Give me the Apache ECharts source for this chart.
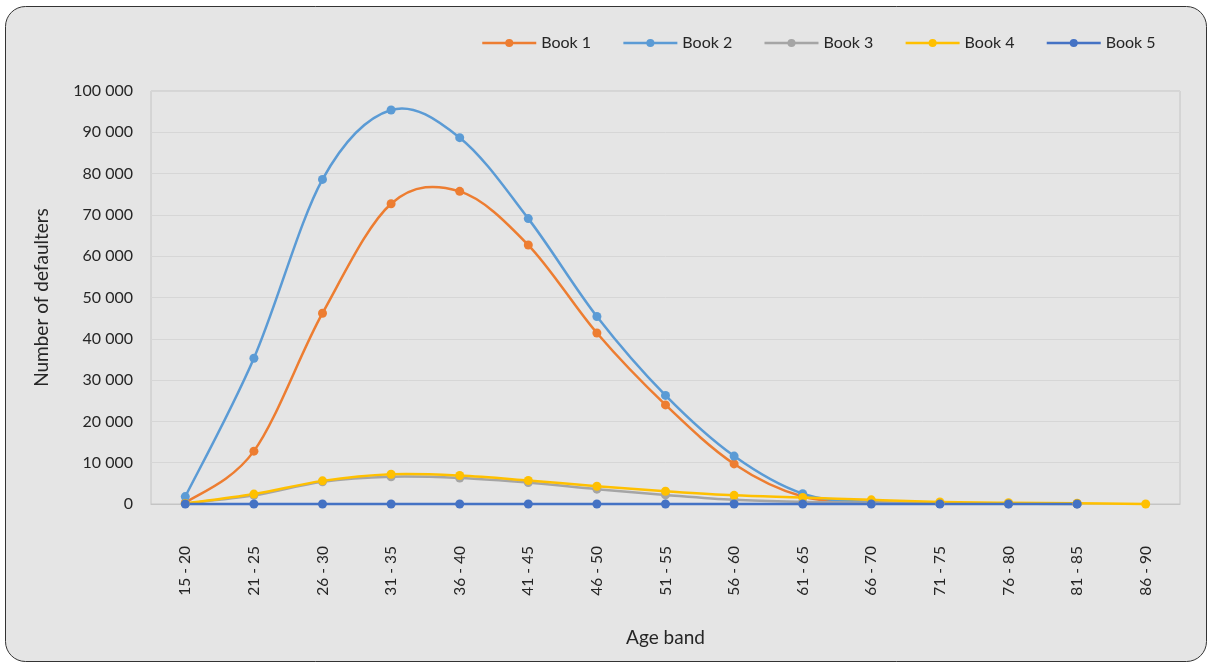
<!DOCTYPE html>
<html>
<head>
<meta charset="utf-8">
<script src="https://cdn.jsdelivr.net/npm/echarts@6/dist/echarts.min.js"></script>
<style>
html,body{margin:0;padding:0;background:#ffffff;}
#c{width:1208px;height:663px;}
</style>
</head>
<body>
<div id="c"></div>
<script>
var categories = ['15 - 20','21 - 25','26 - 30','31 - 35','36 - 40','41 - 45','46 - 50','51 - 55','56 - 60','61 - 65','66 - 70','71 - 75','76 - 80','81 - 85','86 - 90'];
var seriesNames = ['Book 1','Book 2','Book 3','Book 4','Book 5'];
var book1 = [300, 12800, 46200, 72700, 75700, 62700, 41400, 24000, 9700, 1800, 500, 200, 100, 50];
var book2 = [1800, 35300, 78600, 95400, 88700, 69100, 45400, 26300, 11600, 2500, 400, 150, 80, 40];
var book3 = [100, 2100, 5400, 6600, 6300, 5200, 3600, 2200, 1000, 500, 300, 100, 50, 20];
var book4 = [100, 2400, 5600, 7200, 6900, 5700, 4300, 3100, 2100, 1600, 1000, 500, 300, 200, 0];
var book5 = [0, 0, 0, 0, 0, 0, 0, 0, 0, 0, 0, 0, 0, 0];
var yTicks = [0, 10000, 20000, 30000, 40000, 50000, 60000, 70000, 80000, 90000, 100000];

var colors = ['#ED7D31','#5B9BD5','#A5A5A5','#FFC000','#4472C4'];
var allData = [book1, book2, book3, book4, book5];
var font = 'Lato, "Liberation Sans", sans-serif';
var textColor = '#262626';
var LW = 2.5;

function fmt(v){
  return String(v).replace(/\B(?=(\d{3})+(?!\d))/g, ' ');
}

// Smoothed curve (Catmull-Rom style, like spreadsheet smoothing), positioned through the axes via api.coord
function makeCurve(arr, color, name){
  return {
    name: name + ' curve',
    type: 'custom',
    silent: true,
    clip: false,
    data: arr.map(function(v, i){ return [i, v]; }),
    encode: {x: 0, y: 1},
    renderItem: function(params, api){
      var i = params.dataIndex;
      if (i >= arr.length - 1) return null;
      var p0 = api.coord([Math.max(i - 1, 0), arr[Math.max(i - 1, 0)]]);
      var p1 = api.coord([i, arr[i]]);
      var p2 = api.coord([i + 1, arr[i + 1]]);
      var j3 = Math.min(i + 2, arr.length - 1);
      var p3 = api.coord([j3, arr[j3]]);
      var t = 1 / 6;
      return {
        type: 'bezierCurve',
        shape: {
          x1: p1[0], y1: p1[1], x2: p2[0], y2: p2[1],
          cpx1: p1[0] + (p2[0] - p0[0]) * t, cpy1: p1[1] + (p2[1] - p0[1]) * t,
          cpx2: p2[0] - (p3[0] - p1[0]) * t, cpy2: p2[1] - (p3[1] - p1[1]) * t
        },
        style: {stroke: color, lineWidth: LW, fill: null, lineCap: 'round'}
      };
    }
  };
}

var series = [];
seriesNames.forEach(function(n, i){
  series.push(makeCurve(allData[i], colors[i], n));
  series.push({
    name: n,
    type: 'line',
    data: allData[i],
    symbol: 'circle',
    symbolSize: 9,
    showAllSymbol: true,
    clip: false,
    lineStyle: {width: LW, color: colors[i], opacity: 0},
    itemStyle: {color: colors[i]}
  });
});

var chart = echarts.init(document.getElementById('c'), null, {renderer:'canvas'});
chart.setOption({
  animation: false,
  backgroundColor: 'transparent',
  graphic: [{
    type: 'rect',
    z: -10,
    silent: true,
    shape: {x: 5.5, y: 6.5, width: 1201, height: 655, r: 20},
    style: {fill: '#e5e5e5', stroke: '#333333', lineWidth: 1}
  }],
  legend: {
    left: 476,
    top: 30,
    itemWidth: 54,
    itemHeight: 10,
    itemGap: 31,
    textStyle: {fontFamily: font, fontSize: 16, color: textColor},
    data: seriesNames.map(function(n, i){
      return {name: n, lineStyle: {opacity: 1, width: LW, color: colors[i]}};
    })
  },
  grid: {
    left: 151, right: 28, top: 91, bottom: 159,
    show: true, borderColor: '#c4c4c4', borderWidth: 1, backgroundColor: 'transparent',
    containLabel: false
  },
  xAxis: {
    type: 'category',
    data: categories,
    boundaryGap: true,
    name: 'Age band',
    nameLocation: 'middle',
    nameGap: 124,
    nameTextStyle: {fontFamily: font, fontSize: 19, color: textColor},
    axisLine: {show: true, lineStyle: {color: '#c4c4c4', width: 1}},
    axisTick: {show: false},
    axisLabel: {rotate: 90, margin: 42, fontFamily: font, fontSize: 15.5, color: textColor, interval: 0}
  },
  yAxis: {
    type: 'value',
    min: yTicks[0],
    max: yTicks[yTicks.length - 1],
    interval: yTicks[1] - yTicks[0],
    name: 'Number of defaulters',
    nameLocation: 'middle',
    nameGap: 100,
    nameTextStyle: {fontFamily: font, fontSize: 19, color: textColor},
    axisLine: {show: false},
    axisTick: {show: false},
    splitLine: {lineStyle: {color: '#d6d6d6', width: 1}},
    axisLabel: {margin: 18, fontFamily: font, fontSize: 16, color: textColor, formatter: fmt}
  },
  series: series
});
</script>
</body>
</html>
